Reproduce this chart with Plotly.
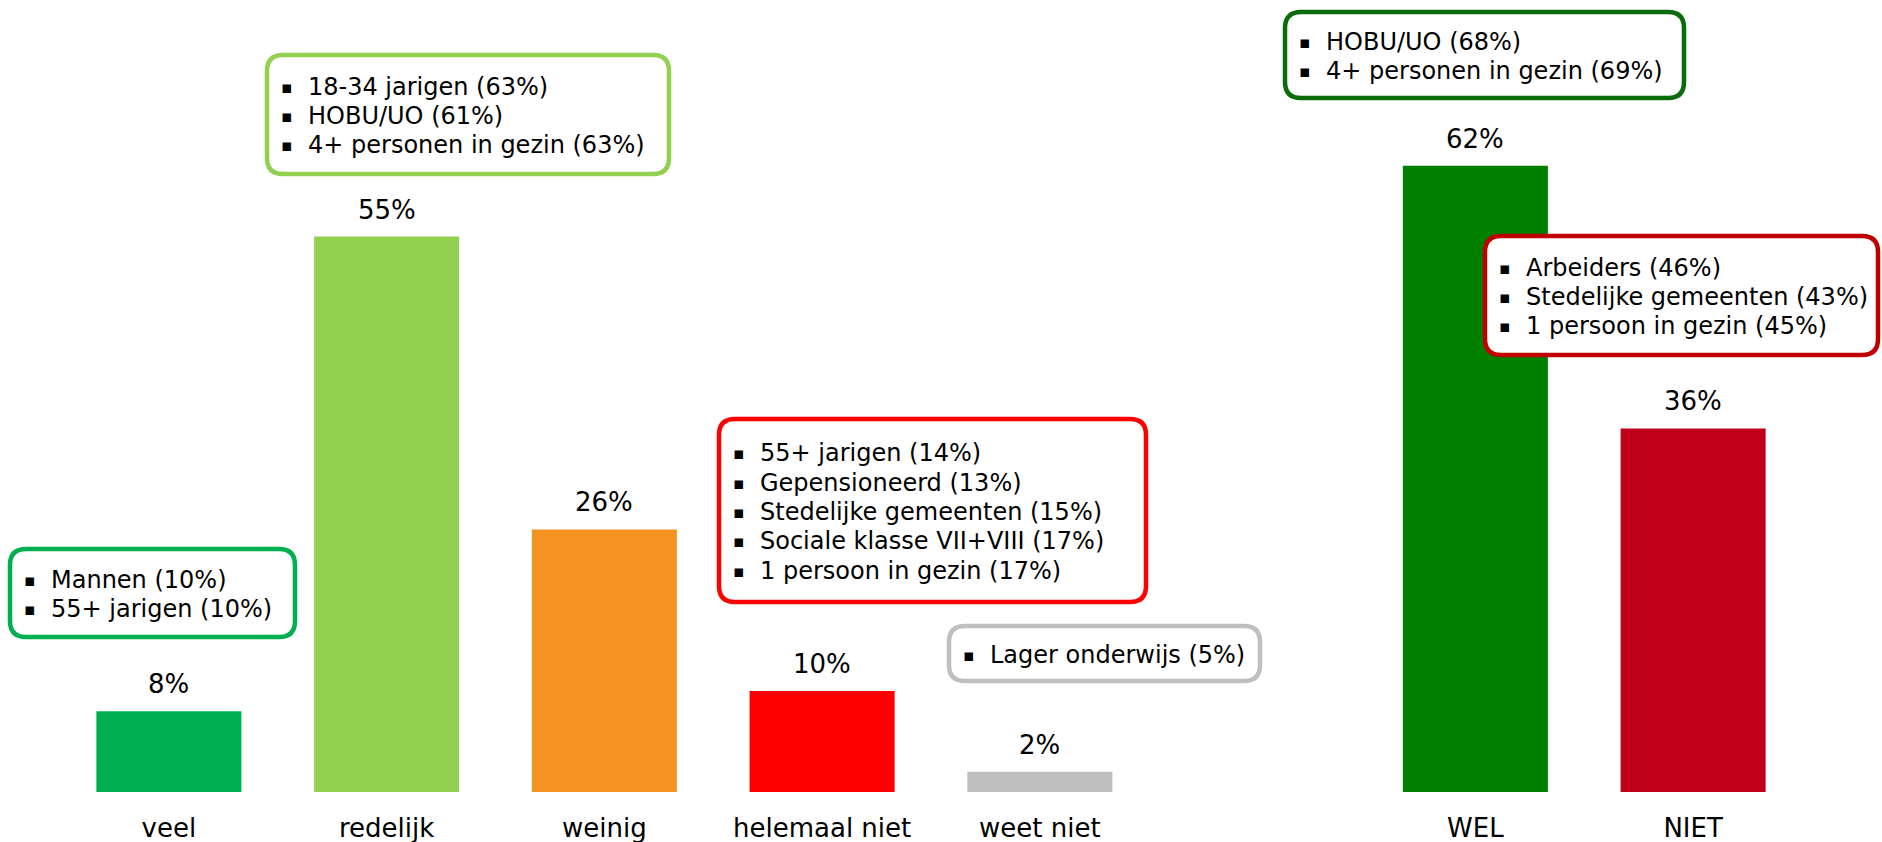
import plotly.graph_objects as go

# ---------------- data ----------------
categories = ["veel", "redelijk", "weinig", "helemaal niet", "weet niet", "WEL", "NIET"]
slots = [0, 1, 2, 3, 4, 6, 7]          # category slot index (slot 5 left empty)
values = [8, 55, 26, 10, 2, 62, 36]
bar_colors = ["#00b050", "#92d050", "#f59320", "#ff0000", "#bfbfbf", "#008000", "#c0001a"]

box_veel = ["Mannen (10%)", "55+ jarigen (10%)"]
box_redelijk = ["18-34 jarigen (63%)", "HOBU/UO (61%)", "4+ personen in gezin (63%)"]
box_helemaal = ["55+ jarigen (14%)", "Gepensioneerd (13%)", "Stedelijke gemeenten (15%)",
                "Sociale klasse VII+VIII (17%)", "1 persoon in gezin (17%)"]
box_weetniet = ["Lager onderwijs (5%)"]
box_wel = ["HOBU/UO (68%)", "4+ personen in gezin (69%)"]
box_niet = ["Arbeiders (46%)", "Stedelijke gemeenten (43%)", "1 persoon in gezin (45%)"]

# ---------------- layout constants ----------------
W, H = 1882, 842
ML, MR, MT, MB = 60, 80, 0, 50
PW, PH = W - ML - MR, H - MT - MB
FONT = "Verdana, DejaVu Sans, sans-serif"

fig = go.Figure()
fig.add_trace(go.Bar(
    x=slots, y=values, marker=dict(color=bar_colors, line=dict(width=0)),
    width=0.666, hoverinfo="skip", showlegend=False,
))

# value labels above bars
for s, v in zip(slots, values):
    fig.add_annotation(x=s, y=v, text=f"{v}%", showarrow=False, xref="x", yref="y",
                       yshift=27, yanchor="middle", xanchor="center",
                       font=dict(family=FONT, size=26, color="#000000"))


def px2paper(px, py):
    return (px - ML) / PW, (H - MB - py) / PH


def rounded_box(x0, y0, x1, y1, color, lines, r=16, lw=4.5, spacing=29.3):
    def P(px, py):
        X, Y = px2paper(px, py)
        return f"{X:.6f},{Y:.6f}"
    path = (f"M {P(x0 + r, y0)} L {P(x1 - r, y0)} Q {P(x1, y0)} {P(x1, y0 + r)} "
            f"L {P(x1, y1 - r)} Q {P(x1, y1)} {P(x1 - r, y1)} "
            f"L {P(x0 + r, y1)} Q {P(x0, y1)} {P(x0, y1 - r)} "
            f"L {P(x0, y0 + r)} Q {P(x0, y0)} {P(x0 + r, y0)} Z")
    fig.add_shape(type="path", path=path, xref="paper", yref="paper",
                  line=dict(color=color, width=lw), fillcolor="white", layer="above")
    n = len(lines)
    cy = (y0 + y1) / 2 + 1.5
    for i, t in enumerate(lines):
        ly = cy + (i - (n - 1) / 2) * spacing
        bx, by = px2paper(x0 + 20, ly)
        tx, ty = px2paper(x0 + 39, ly)
        fig.add_annotation(x=bx, y=by, xref="paper", yref="paper", text="▪",
                           showarrow=False, xanchor="center", yanchor="middle",
                           font=dict(family=FONT, size=17, color="#000000"))
        fig.add_annotation(x=tx, y=ty, xref="paper", yref="paper", text=t,
                           showarrow=False, xanchor="left", yanchor="middle",
                           font=dict(family=FONT, size=24, color="#000000"))


rounded_box(10, 549, 295, 637, "#00b050", box_veel)
rounded_box(267, 55, 669, 174, "#92d050", box_redelijk)
rounded_box(719, 419, 1146, 602, "#ff0000", box_helemaal)
rounded_box(949, 626, 1260, 681, "#bfbfbf", box_weetniet)
rounded_box(1285, 12, 1684, 98, "#0a6b0a", box_wel)
rounded_box(1485, 236, 1878, 355, "#c00000", box_niet)

fig.update_layout(
    width=W, height=H,
    margin=dict(l=ML, r=MR, t=MT, b=MB),
    paper_bgcolor="white", plot_bgcolor="white",
    bargap=0.334,
    xaxis=dict(range=[-0.5, 7.5], tickmode="array", tickvals=slots, ticktext=categories,
               showgrid=False, zeroline=False, showline=False, ticks="",
               tickfont=dict(family=FONT, size=26, color="#000000"),
               ticklabelstandoff=18, fixedrange=True),
    yaxis=dict(range=[0, PH / 10.1], visible=False, showgrid=False, zeroline=False,
               fixedrange=True),
    font=dict(family=FONT),
)

fig.write_html("out.html", config={"displayModeBar": False},
               post_script="document.body.style.margin='0';document.body.style.overflow='hidden';")
